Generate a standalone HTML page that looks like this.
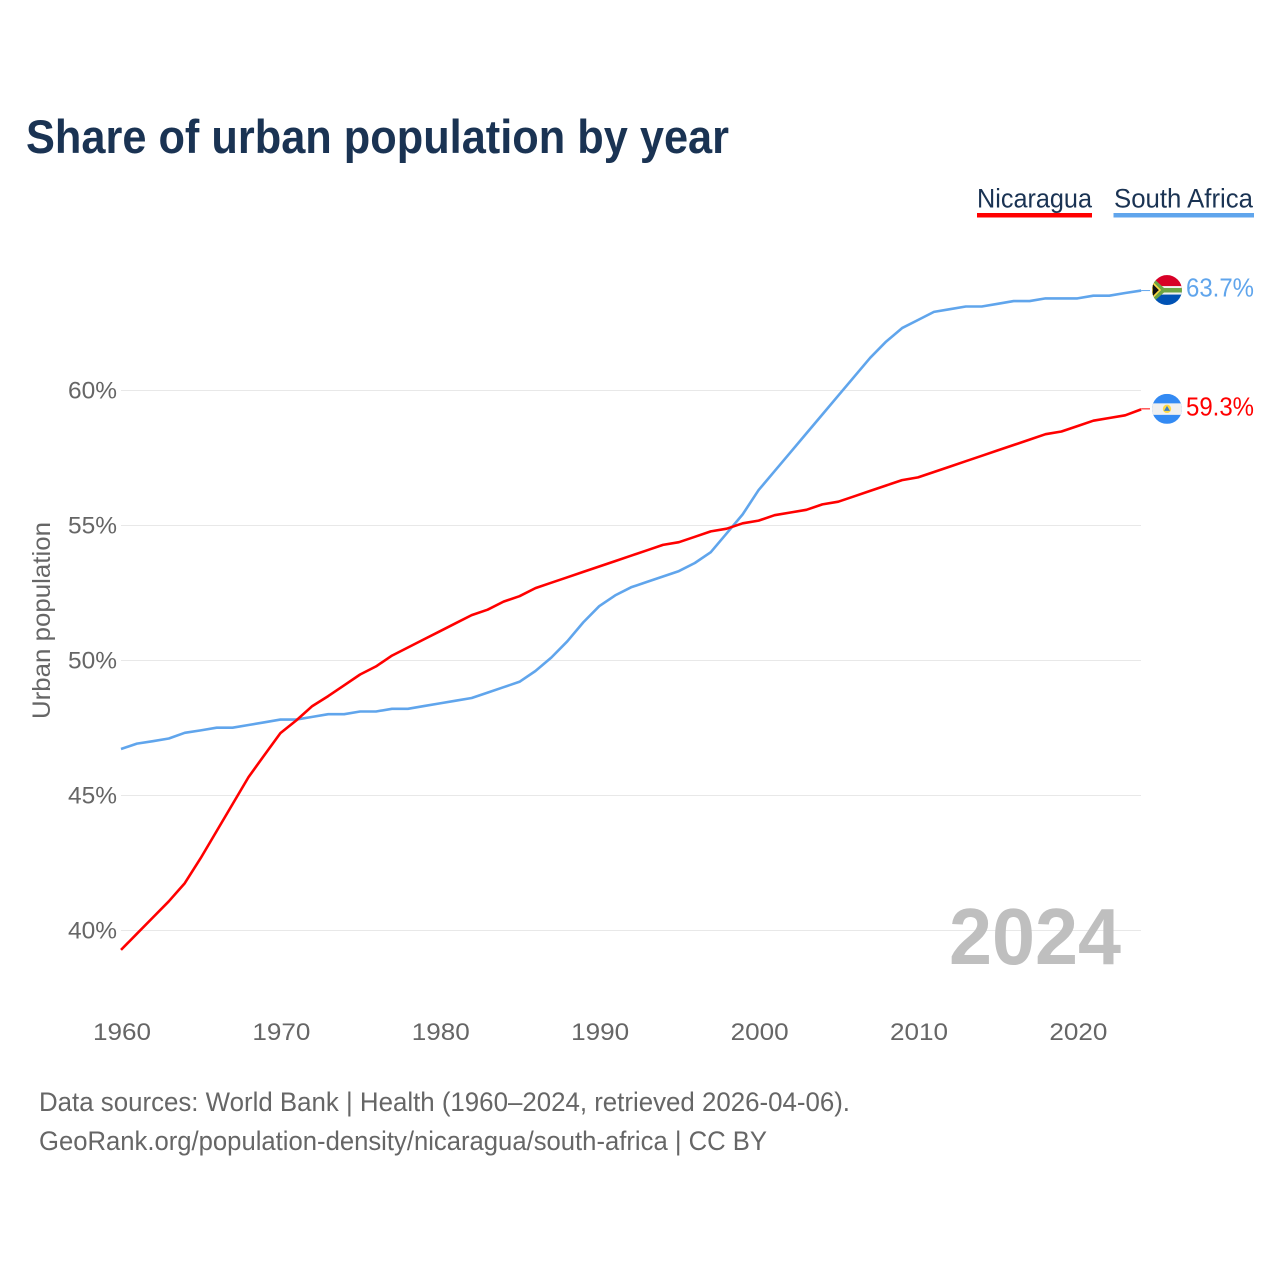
<!DOCTYPE html>
<html lang="en">
<head>
<meta charset="utf-8">
<title>Share of urban population by year</title>
<style>
html,body{margin:0;padding:0;background:#fff;width:1280px;height:1280px;overflow:hidden}
svg{display:block}
text{font-family:"Liberation Sans",sans-serif}
</style>
</head>
<body>
<svg id="chart" xmlns="http://www.w3.org/2000/svg" width="1280" height="1280" viewBox="0 0 1280 1280">
  <defs>
    <clipPath id="sa-clip"><circle cx="15" cy="15" r="15"/></clipPath>
    <clipPath id="ni-clip"><circle cx="15" cy="15" r="15"/></clipPath>
  </defs>
  <rect width="1280" height="1280" fill="#fff"/>
  <text x="26" y="153" font-size="47" font-weight="700" fill="#1a3353" textLength="703" lengthAdjust="spacingAndGlyphs">Share of urban population by year</text>

  <g>
    <text x="977" y="207.500" font-size="26.500" fill="#1a3353" textLength="115" lengthAdjust="spacingAndGlyphs">Nicaragua</text>
    <rect x="977" y="213" width="115" height="4.5" fill="#ff0000"/>
  </g>
  <g>
    <text x="1114" y="207.500" font-size="26.500" fill="#1a3353" textLength="139" lengthAdjust="spacingAndGlyphs">South Africa</text>
    <rect x="1113.500" y="213" width="140.500" height="4.500" fill="#60a5ec"/>
  </g>

  <g id="grid"></g>
  <g id="y-ticks"></g>
  <g id="x-ticks"></g>
  <text transform="translate(50,719) rotate(-90)" font-size="25" fill="#666" textLength="197" lengthAdjust="spacingAndGlyphs">Urban population</text>
  <text x="949" y="964" font-size="80" font-weight="700" fill="#bfbfbf" textLength="172" lengthAdjust="spacingAndGlyphs">2024</text>
  <g id="series"></g>
  <g id="ends"></g>

  <text x="39" y="1111" font-size="27" fill="#666" textLength="811" lengthAdjust="spacingAndGlyphs">Data sources: World Bank | Health (1960–2024, retrieved 2026-04-06).</text>
  <text x="39" y="1150" font-size="27" fill="#666" textLength="728" lengthAdjust="spacingAndGlyphs">GeoRank.org/population-density/nicaragua/south-africa | CC BY</text>
</svg>
<script>
const startYear = 1960;
const xTickYears = [1960, 1970, 1980, 1990, 2000, 2010, 2020];
const yTickValues = [40, 45, 50, 55, 60];
const nicaraguaValues = [39.3,39.9,40.5,41.1,41.77,42.7,43.7,44.7,45.7,46.52,47.33,47.8,48.33,48.7,49.1,49.5,49.8,50.2,50.5,50.8,51.1,51.4,51.7,51.9,52.2,52.4,52.7,52.9,53.1,53.3,53.5,53.7,53.9,54.1,54.3,54.4,54.6,54.8,54.9,55.1,55.2,55.4,55.5,55.6,55.8,55.9,56.1,56.3,56.5,56.7,56.8,57.0,57.2,57.4,57.6,57.8,58.0,58.2,58.4,58.5,58.7,58.9,59.0,59.1,59.32];
const southAfricaValues = [46.74,46.94,47.03,47.13,47.34,47.43,47.53,47.53,47.63,47.73,47.83,47.83,47.93,48.03,48.03,48.13,48.13,48.23,48.23,48.33,48.43,48.53,48.63,48.83,49.03,49.23,49.63,50.13,50.73,51.43,52.03,52.43,52.73,52.93,53.13,53.33,53.63,54.03,54.73,55.43,56.33,57.03,57.73,58.43,59.13,59.83,60.53,61.23,61.83,62.33,62.63,62.93,63.03,63.13,63.13,63.23,63.33,63.33,63.43,63.43,63.43,63.53,63.53,63.63,63.72];

const NS = 'http://www.w3.org/2000/svg';
const xScale = function (year) { return 121 + (year - 1960) * 15.94; };
const yScale = function (pct) { return 391 + (60 - pct) * 27; };
const make = function (tag, attrs, parent, content) {
  const el = document.createElementNS(NS, tag);
  Object.keys(attrs).forEach(function (k) { el.setAttribute(k, attrs[k]); });
  if (content !== undefined) el.textContent = content;
  parent.appendChild(el);
  return el;
};

const gridG = document.getElementById('grid');
const yG = document.getElementById('y-ticks');
yTickValues.forEach(function (v) {
  const line = make('line', {x1: 121, x2: 1141, y1: yScale(v) - 0.5, y2: yScale(v) - 0.5, stroke: '#e8e8e8', 'stroke-width': 1}, gridG);
  
  
  const label = make('text', {x: 68, y: yScale(v) + 7.5, 'font-size': 24, fill: '#666', textLength: 49, lengthAdjust: 'spacingAndGlyphs'}, yG, v + '%');
  
  
});

const xG = document.getElementById('x-ticks');
xTickYears.forEach(function (yr) {
  const label = make('text', {x: xScale(yr) - 28, y: 1040, 'font-size': 24, fill: '#666', textLength: 58, lengthAdjust: 'spacingAndGlyphs'}, xG, String(yr));
  
  
});

const pathFor = function (values) {
  return values.map(function (v, i) {
    return (i ? 'L' : 'M') + xScale(startYear + i).toFixed(2) + ' ' + yScale(v).toFixed(2);
  }).join(' ');
};
const seriesG = document.getElementById('series');
const blueLine = make('path', {d: pathFor(southAfricaValues), fill: 'none', stroke: '#60a5ec', 'stroke-width': 2.6, 'stroke-linejoin': 'round'}, seriesG);


const redLine = make('path', {d: pathFor(nicaraguaValues), fill: 'none', stroke: '#ff0000', 'stroke-width': 2.6, 'stroke-linejoin': 'round'}, seriesG);



const endsG = document.getElementById('ends');
const lastYear = startYear + nicaraguaValues.length - 1;

/* South Africa end marker */
const saLast = southAfricaValues[southAfricaValues.length - 1];
const saY = yScale(saLast);
const saConn = make('line', {x1: xScale(lastYear), x2: 1150, y1: saY, y2: saY, stroke: '#60a5ec', 'stroke-width': 1}, endsG);


const saFlag = make('g', {transform: 'translate(1152,' + (saY - 15.5) + ')', 'clip-path': 'url(#sa-clip)'}, endsG);


make('rect', {x: 0, y: 0, width: 30, height: 15, fill: '#d80027'}, saFlag);
make('rect', {x: 0, y: 15, width: 30, height: 15, fill: '#0052b4'}, saFlag);
make('rect', {x: 0, y: 11, width: 30, height: 8.5, fill: '#f0f0f0'}, saFlag);
make('path', {d: 'M0 2 L12 13 L30 13 L30 17.500 L12 17.500 L0 28 Z', fill: '#6da544'}, saFlag);
make('path', {d: 'M0 7 L8 15 L0 23 Z', fill: '#111', stroke: '#ffda44', 'stroke-width': 1.6}, saFlag);
const saLabel = make('text', {x: 1186, y: saY + 6, 'font-size': 26, fill: '#60a5ec', textLength: 68, lengthAdjust: 'spacingAndGlyphs'}, endsG, saLast.toFixed(1) + '%');



/* Nicaragua end marker */
const niLast = nicaraguaValues[nicaraguaValues.length - 1];
const niY = yScale(niLast);
const niConn = make('line', {x1: xScale(lastYear), x2: 1150, y1: niY - 0.5, y2: niY - 0.5, stroke: '#ff0000', 'stroke-width': 1}, endsG);


const niFlag = make('g', {transform: 'translate(1152,' + (niY - 15.5) + ')', 'clip-path': 'url(#ni-clip)'}, endsG);


make('rect', {x: 0, y: 0, width: 30, height: 30, fill: '#338af3'}, niFlag);
make('rect', {x: 0, y: 9.5, width: 30, height: 11.5, fill: '#f0f0f0'}, niFlag);
make('circle', {cx: 15, cy: 15, r: 4.2, fill: '#ffda44'}, niFlag);
make('path', {d: 'M15 12 L18 17 L12 17 Z', fill: '#3f7fc4'}, niFlag);
const niLabel = make('text', {x: 1186, y: niY + 6, 'font-size': 26, fill: '#ff0000', textLength: 68, lengthAdjust: 'spacingAndGlyphs'}, endsG, niLast.toFixed(1) + '%');


</script>
</body>
</html>
